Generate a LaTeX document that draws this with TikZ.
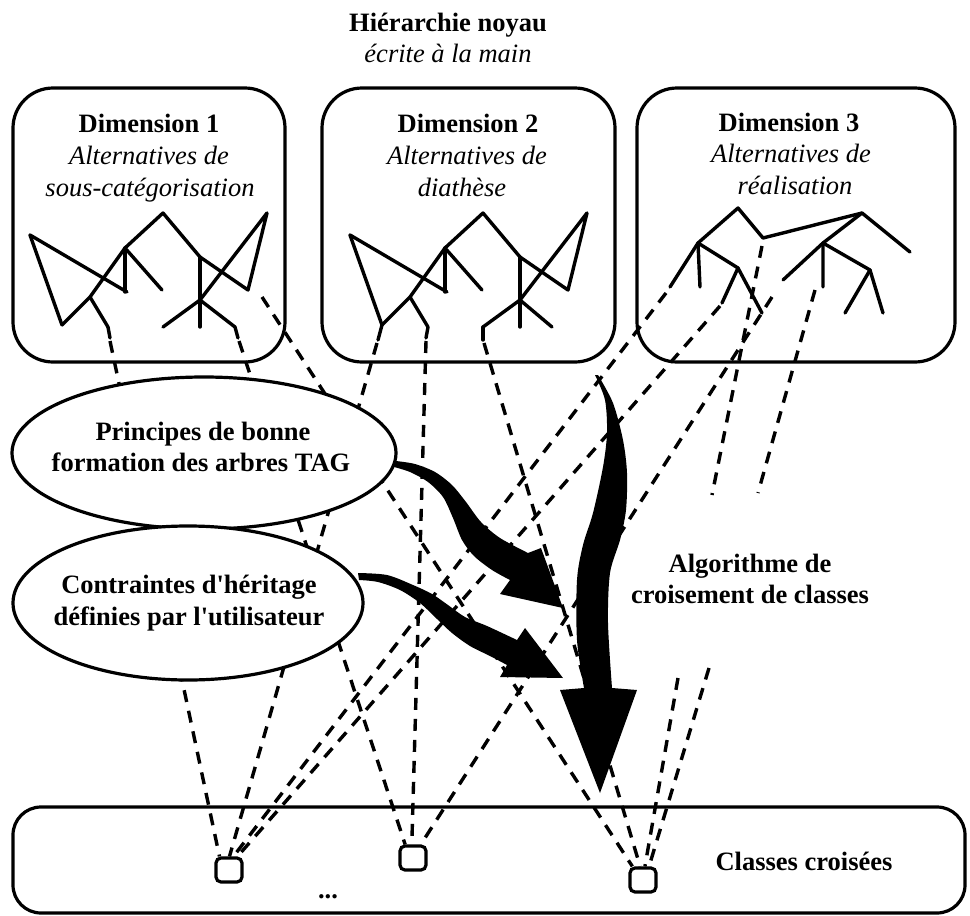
\documentclass[tikz,border=0pt]{standalone}
\usepackage{fontspec}
\setmainfont{Liberation Serif}[Ligatures=TeXOff]
\usetikzlibrary{shapes.geometric}
\begin{document}
\begin{tikzpicture}[x=1pt,y=-1pt,
  txt/.style={inner sep=0pt, anchor=base, font=\fontsize{26.5}{31}\selectfont},
  bold/.style={txt, font=\fontsize{26.5}{31}\selectfont\bfseries},
  ital/.style={txt, font=\fontsize{26.5}{31}\selectfont\itshape},
  dimbox/.style={draw, line width=3.2pt, rounded corners=40pt, inner sep=0pt},
  tree/.style={line width=3.4pt, line cap=round, line join=round},
  link/.style={line width=3.4pt, dash pattern=on 12pt off 9pt},
  oval/.style={draw, ellipse, line width=3.2pt, fill=white, inner sep=0pt},
  cls/.style={draw, line width=3.2pt, rounded corners=5pt, minimum width=26pt, minimum height=24pt, inner sep=0pt},
  bigarrow/.style={fill=black}
]
\useasboundingbox (0,0) rectangle (970,916);

% title
\node[bold] (t1) at (448,31) {Hiérarchie noyau};
\node[ital] (t2) at (448,62) {écrite à la main};

% dimension boxes
\node[dimbox, minimum width=272pt, minimum height=274pt] (d1) at (149,225) {};
\node[dimbox, minimum width=293pt, minimum height=274pt] (d2) at (468.5,225) {};
\node[dimbox, minimum width=318pt, minimum height=274pt] (d3) at (796,225) {};

\node[bold] (d1a) at (149,132) {Dimension 1};
\node[ital] (d1b) at (149,164) {Alternatives de};
\node[ital] (d1c) at (150,196) {sous-catégorisation};
\node[bold] (d2a) at (468,132) {Dimension 2};
\node[ital] (d2b) at (467,164) {Alternatives de};
\node[ital] (d2c) at (462,196) {diathèse};
\node[bold] (d3a) at (789,131) {Dimension 3};
\node[ital] (d3b) at (791,162) {Alternatives de};
\node[ital] (d3c) at (795,194) {réalisation};

% trees of dimensions 1 and 2
\foreach \dx in {0,320}{
\begin{scope}[shift={(\dx,0)}]
\draw[tree] (62,325) -- (90,297) -- (125,248) -- (163,213) -- (200,257) -- (248,290) -- (267,213) -- (200,300) -- (163,327);
\draw[tree] (30,235) -- (62,325);
\draw[tree] (30,235) -- (127,292);
\draw[tree] (125,248) -- (125,292);
\draw[tree] (125,248) -- (162,290);
\draw[tree] (90,297) -- (108,327);
\draw[tree] (200,257) -- (200,327);
\end{scope}}
% dimension 1 specific
\draw[tree] (108,327) -- (110,338);
\draw[tree] (200,300) -- (235,327) -- (238,338);
% dimension 2 specific
\draw[tree] (382,325) -- (378,340);
\draw[tree] (428,327) -- (426,338);
\draw[tree] (483,327) -- (483,340);
\draw[tree] (520,300) -- (552,327);

% tree of dimension 3
\draw[tree] (670,287) -- (698,243) -- (738,208) -- (763,238) -- (862,213) -- (910,252);
\draw[tree] (698,243) -- (700,287);
\draw[tree] (698,243) -- (738,268) -- (762,313);
\draw[tree] (738,268) -- (722,303);
\draw[tree] (862,213) -- (823,243) -- (823,287);
\draw[tree] (823,243) -- (783,280);
\draw[tree] (823,243) -- (870,270) -- (845,313);
\draw[tree] (870,270) -- (883,313);

% leaf coordinates
\coordinate (a1) at (110,341);
\coordinate (a2) at (239,341);
\coordinate (a3) at (262,297);
\coordinate (b1) at (377,343);
\coordinate (b2) at (426,341);
\coordinate (b3) at (484,343);
\coordinate (c1) at (720,306);
\coordinate (c2) at (666,293);
\coordinate (c3) at (772,297);
\coordinate (c4) at (762,246);
\coordinate (c5) at (815,290);
\coordinate (g1) at (712,495);
\coordinate (g2) at (678,678);
\coordinate (g3) at (758,493);
\coordinate (g4) at (709,668);

% class box and crossed classes
\node[draw, line width=3.2pt, rounded corners=28pt, minimum width=952pt, minimum height=106pt, inner sep=0pt] (cb) at (489,860) {};
\node[cls] (s1) at (229,870) {};
\node[cls] (s2) at (413,858) {};
\node[cls] (s3) at (643,880) {};
\node[bold] (cc) at (804,870) {Classes croisées};
\node[bold] (dots) at (328,898) {...};

% dashed inheritance links
\draw[link] (a1) -- (s1.125);
\draw[link] (b1) -- (s1.88);
\draw[link] (c2) -- (s1.72);
\draw[link] (c1) -- (s1.58);
\draw[link] (a2) -- (s2.120);
\draw[link] (b2) -- (s2.95);
\draw[link] (c3) -- (s2.60);
\draw[link] (a3) -- (s3.128);
\draw[link] (b3) -- (s3.102);
\draw[link] (c4) -- (g1);
\draw[link] (g2) -- (s3.82);
\draw[link] (c5) -- (g3);
\draw[link] (g4) -- (s3.66);

% ellipses
\node[oval, minimum width=384pt, minimum height=152pt] (e1) at (204,453) {};
\node[bold] (e1a) at (203,440) {Principes de bonne};
\node[bold] (e1b) at (201,471) {formation des arbres TAG};
\node[oval, minimum width=350pt, minimum height=154pt] (e2) at (188,603) {};
\node[bold] (e2a) at (189,593) {Contraintes d'héritage};
\node[bold] (e2b) at (189,625) {définies par l'utilisateur};

% big arrows
\fill[bigarrow] plot[smooth] coordinates {(396,461) (415,464) (435,472) (452,485) (466,502) (481,522) (500,538) (528,553)}
  -- (541,548) -- (563,608) -- (500,594)
  -- plot[smooth] coordinates {(510,580) (492,570) (474,556) (462,540) (453,518) (443,497) (428,482) (410,472) (394,467)} -- cycle;
\fill[bigarrow] plot[smooth] coordinates {(358,573) (387,575) (413,585) (432,594) (448,605) (465,617) (487,626) (517,640)}
  -- (525,628) -- (563,678) -- (500,677)
  -- plot[smooth] coordinates {(507,665) (490,656) (470,646) (452,633) (437,619) (420,603) (400,590) (378,582) (359,580)} -- cycle;
\fill[bigarrow] plot[smooth] coordinates {(595,375) (605,400) (607,433) (603,467) (593,513) (583,545) (577,580) (577,640) (584,688)}
  -- (560,690) -- (600,793) -- (637,690)
  -- plot[smooth] coordinates {(612,688) (608,623) (610,573) (620,540) (626,510) (627,473) (623,440) (613,403) (598,375)} -- cycle;

\node[bold] (al1) at (750,572) {Algorithme de};
\node[bold] (al2) at (750,603) {croisement de classes};
\end{tikzpicture}
\end{document}
